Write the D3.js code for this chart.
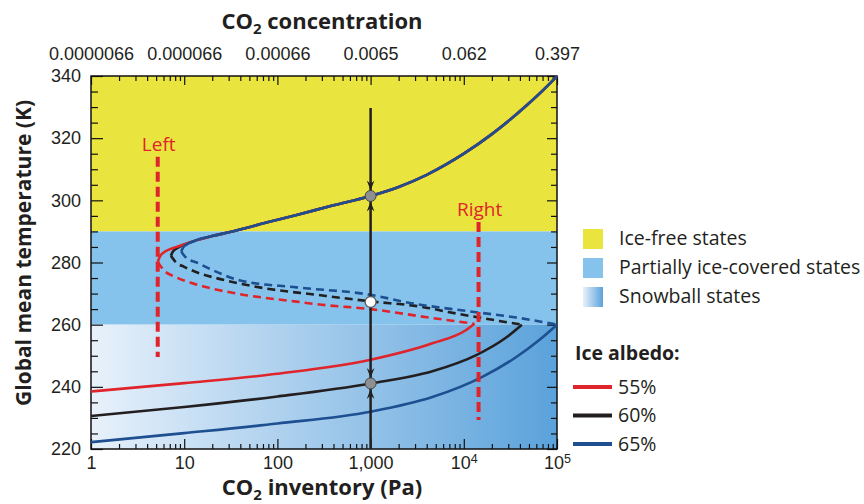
<!DOCTYPE html>
<html>
<head>
<meta charset="utf-8">
<script src="https://cdn.jsdelivr.net/npm/d3@7"></script>
<style>
  body { margin: 0; background: #fff; }
  svg { display: block; font-family: "Open Sans", Lato, sans-serif; }
</style>
</head>
<body>
<svg width="864" height="504" viewBox="0 0 864 504"></svg>
<script>
// ---- data: [CO2 inventory (Pa), temperature (K)] ----
const albedoLabels = ["55%", "60%", "65%"];
const regionLabels = ["Ice-free states", "Partially ice-covered states", "Snowball states"];

// ice-free branch, shared by all albedos
const warmShared = [[13.6, 287.2], [20, 288.5], [31, 289.8], [80, 293], [161, 295.3], [400, 298.4],
  [1000, 301.4], [2000, 304.3], [4000, 308.2], [10000, 315], [20000, 321.3], [47000, 330.5], [80000, 337], [100000, 340]];

// partially ice-covered stable branch, from the saddle-node to the shared branch
const warmNose55 = [[5.2, 280.2], [5.5, 282], [6.3, 283.6], [7.5, 284.6], [9.5, 285.6]];
const warmNose60 = [[7.2, 282.2], [7.6, 283.6], [8.6, 284.8], [10.5, 286]];
const warmNose65 = [[9.3, 283.5], [9.8, 285], [11.3, 286.2]];

// unstable (dashed) branch
const unstable55 = [[5.2, 280.2], [6, 277.6], [8, 275.4], [12, 273.4], [20, 271.6], [40, 269.8],
  [161, 267.4], [300, 266.4], [1000, 265], [4000, 262.4], [13000, 260.3]];
const unstable60 = [[7.2, 282.2], [8.2, 280], [10, 278.6], [15, 276.4], [22, 275], [70, 271.8],
  [265, 269.6], [1000, 267.5], [3600, 265.7], [7000, 264], [24000, 261.2], [42000, 260]];
const unstable65 = [[9.3, 283.5], [10.5, 281.5], [13.6, 280], [20, 277.6], [40, 274.2], [161, 272],
  [1000, 269.6], [2640, 267], [13600, 264], [36600, 262.3], [100000, 260]];

// snowball branch
const snowball55 = [[1, 238.5], [10, 241.2], [100, 244.2], [1000, 248.7], [4600, 254], [10600, 258.3], [13000, 260.3]];
const snowball60 = [[1, 230.6], [10, 233.5], [100, 236.9], [1000, 241.1], [4600, 245], [13600, 250.2], [28000, 255.7], [42000, 260]];
const snowball65 = [[1, 222.2], [10, 225.1], [100, 228.2], [1000, 232], [4600, 236.7], [15800, 243.2], [36600, 249.6], [64000, 255], [100000, 260]];

// equilibria at 1,000 Pa for the 60% case
const pathInventory = 1000;
const pathTop = 329.7;
const stableStates = [301.4, 241.1];
const unstableStates = [267.3];

// bifurcation markers
const bifurcations = [
  { label: "Left", inventory: 5.2, tLow: 249.6, tHigh: 314 },
  { label: "Right", inventory: 14400, tLow: 229.3, tHigh: 293 }
];

// regime limits (K)
const iceFreeMin = 290;
const snowballMax = 260;

// axis ticks and labels
const inventoryTicks = [1, 10, 100, 1000, 1e4, 1e5];
const inventoryLabels = ["1", "10", "100", "1,000", "10^4", "10^5"];
const concentrationLabels = ["0.0000066", "0.000066", "0.00066", "0.0065", "0.062", "0.397"];
const tempTicks = [220, 240, 260, 280, 300, 320, 340];

// ---- styles ----
const colors = ["#e0242b", "#231f20", "#1d4f91"];
const yellow = "#e9e53e";
const partialBlue = "#85c3ec";
const snowLight = "#e8f1fb";
const snowDark = "#5aa2db";
const red = "#e0242b";
const ink = "#231f20";

const svg = d3.select("svg");
const x = d3.scaleLog().domain([1, 1e5]).range([91, 557]);
const y = d3.scaleLinear().domain([220, 340]).range([449, 76]);

const defs = svg.append("defs");
const grad = defs.append("linearGradient").attr("id", "snow")
  .attr("gradientUnits", "userSpaceOnUse")
  .attr("x1", x(1)).attr("x2", x(1e5)).attr("y1", 0).attr("y2", 0);
grad.append("stop").attr("offset", 0).attr("stop-color", snowLight);
grad.append("stop").attr("offset", 1).attr("stop-color", snowDark);
const grad2 = defs.append("linearGradient").attr("id", "snowKey");
grad2.append("stop").attr("offset", 0).attr("stop-color", snowLight);
grad2.append("stop").attr("offset", 1).attr("stop-color", snowDark);

// background regimes
const x0 = x(1), x1 = x(1e5);
svg.append("rect").attr("x", x0).attr("width", x1 - x0)
  .attr("y", y(340)).attr("height", y(iceFreeMin) - y(340)).attr("fill", yellow);
svg.append("rect").attr("x", x0).attr("width", x1 - x0)
  .attr("y", y(iceFreeMin)).attr("height", y(snowballMax) - y(iceFreeMin)).attr("fill", partialBlue);
svg.append("rect").attr("x", x0).attr("width", x1 - x0)
  .attr("y", y(snowballMax)).attr("height", y(220) - y(snowballMax)).attr("fill", "url(#snow)");

// axes: major and minor ticks pointing inward
const minorX = x.ticks().filter(v => !inventoryTicks.includes(v));
const minorY = d3.range(220, 341, 5).filter(v => !tempTicks.includes(v));

function styleAxis(g) {
  g.select(".domain").remove();
  g.selectAll("line").attr("stroke", "#111").attr("stroke-width", 1.2);
  g.selectAll("text").attr("fill", ink).attr("font-size", 18);
}

const bottom = svg.append("g").attr("transform", `translate(0,${y(220)})`)
  .call(d3.axisBottom(x).tickValues(inventoryTicks).tickSizeInner(-10).tickSizeOuter(0)
    .tickPadding(7).tickFormat((d, i) => inventoryLabels[i]))
  .call(styleAxis);
svg.append("g").attr("transform", `translate(0,${y(220)})`)
  .call(d3.axisBottom(x).tickValues(minorX).tickSize(-5).tickFormat(""))
  .call(styleAxis);

// superscript exponents
bottom.selectAll(".tick text").each(function(d, i) {
  const lab = inventoryLabels[i];
  if (lab.includes("^")) {
    const [base, exp] = lab.split("^");
    const t = d3.select(this).text(null);
    t.append("tspan").text(base);
    t.append("tspan").attr("dy", "-0.5em").attr("font-size", 12.5).text(exp);
  }
});

svg.append("g").attr("transform", `translate(0,${y(340)})`)
  .call(d3.axisTop(x).tickValues(inventoryTicks).tickSizeInner(-9).tickSizeOuter(0)
    .tickPadding(16).tickFormat((d, i) => concentrationLabels[i]))
  .call(styleAxis);
svg.append("g").attr("transform", `translate(0,${y(340)})`)
  .call(d3.axisTop(x).tickValues(minorX).tickSize(-5).tickFormat(""))
  .call(styleAxis);

svg.append("g").attr("transform", `translate(${x(1)},0)`)
  .call(d3.axisLeft(y).tickValues(tempTicks).tickSizeInner(-12).tickSizeOuter(0).tickPadding(10))
  .call(styleAxis);
svg.append("g").attr("transform", `translate(${x(1)},0)`)
  .call(d3.axisLeft(y).tickValues(minorY).tickSize(-7).tickFormat(""))
  .call(styleAxis);
svg.append("g").attr("transform", `translate(${x(1e5)},0)`)
  .call(d3.axisRight(y).tickValues(tempTicks).tickSizeInner(-10).tickSizeOuter(0).tickFormat(""))
  .call(styleAxis);
svg.append("g").attr("transform", `translate(${x(1e5)},0)`)
  .call(d3.axisRight(y).tickValues(minorY).tickSize(-6).tickFormat(""))
  .call(styleAxis);

svg.append("rect").attr("x", x0).attr("y", y(340)).attr("width", x1 - x0).attr("height", y(220) - y(340))
  .attr("fill", "none").attr("stroke", "#111").attr("stroke-width", 1.5);

// titles
function co2Title(yPos, rest) {
  const t = svg.append("text").attr("x", 322).attr("y", yPos).attr("text-anchor", "middle")
    .attr("font-size", 22).attr("font-weight", "bold").attr("fill", ink);
  t.append("tspan").text("CO");
  t.append("tspan").attr("font-size", 15).attr("dy", 5).text("2");
  t.append("tspan").attr("dy", -5).text(rest);
}
co2Title(29, " concentration");
co2Title(495, " inventory (Pa)");

svg.append("text").attr("transform", `translate(31,253) rotate(-90)`)
  .attr("text-anchor", "middle").attr("font-size", 21).attr("font-weight", "bold").attr("fill", ink)
  .text("Global mean temperature (K)");

// curves
const line = d3.line().x(d => x(d[0])).y(d => y(d[1])).curve(d3.curveMonotoneX);
const noses = [warmNose55, warmNose60, warmNose65];
const unstables = [unstable55, unstable60, unstable65];
const snowballs = [snowball55, snowball60, snowball65];

const curves = svg.append("g").attr("fill", "none").attr("stroke-width", 2.6);
[1, 2, 0].forEach(i => {
  curves.append("path").attr("d", line(unstables[i])).attr("stroke", colors[i])
    .attr("stroke-dasharray", "8,5");
});
[1, 0, 2].forEach(i => {
  curves.append("path").attr("d", line(noses[i].concat(warmShared))).attr("stroke", colors[i]);
  curves.append("path").attr("d", line(snowballs[i])).attr("stroke", colors[i]);
});

// bifurcation markers
bifurcations.forEach(b => {
  svg.append("line").attr("x1", x(b.inventory)).attr("x2", x(b.inventory))
    .attr("y1", y(b.tHigh)).attr("y2", y(b.tLow))
    .attr("stroke", red).attr("stroke-width", 4).attr("stroke-dasharray", "10,5");
  svg.append("text").attr("x", x(b.inventory) + 1).attr("y", y(b.tHigh) - 6)
    .attr("text-anchor", "middle").attr("font-size", 19).attr("fill", red).text(b.label);
});

// evolution path at fixed inventory
const px = x(pathInventory);
svg.append("line").attr("x1", px).attr("x2", px).attr("y1", y(pathTop)).attr("y2", y(220))
  .attr("stroke", ink).attr("stroke-width", 2.5);

const r = 5.5;
function arrowPath(cx, tip, dir) {
  return `M${cx},${tip}L${cx - 3.8},${tip - 10 * dir}L${cx},${tip - 6.5 * dir}L${cx + 3.8},${tip - 10 * dir}Z`;
}
stableStates.forEach(t => {
  svg.append("path").attr("d", arrowPath(px, y(t) - r, 1)).attr("fill", ink);
  svg.append("path").attr("d", arrowPath(px, y(t) + r, -1)).attr("fill", ink);
  svg.append("circle").attr("cx", px).attr("cy", y(t)).attr("r", r)
    .attr("fill", "#8d8f91").attr("stroke", "#444").attr("stroke-width", 1);
});
unstableStates.forEach(t => {
  svg.append("circle").attr("cx", px).attr("cy", y(t)).attr("r", r)
    .attr("fill", "#fff").attr("stroke", "#555").attr("stroke-width", 1.3);
});

// legend
const regionFills = [yellow, partialBlue, "url(#snowKey)"];
const legend = svg.append("g").attr("font-size", 19.5).attr("fill", ink);
regionLabels.forEach((lab, i) => {
  const yy = 229 + i * 29;
  legend.append("rect").attr("x", 583).attr("y", yy).attr("width", 20).attr("height", 20).attr("fill", regionFills[i]);
  legend.append("text").attr("x", 619).attr("y", yy + 16).text(lab);
});
legend.append("text").attr("x", 575).attr("y", 360).attr("font-weight", "bold").attr("font-size", 19.5).text("Ice albedo:");
albedoLabels.forEach((lab, i) => {
  const yy = 387 + i * 28.5;
  legend.append("line").attr("x1", 573).attr("x2", 612).attr("y1", yy).attr("y2", yy)
    .attr("stroke", colors[i]).attr("stroke-width", 4);
  legend.append("text").attr("x", 618).attr("y", yy + 6.5).text(lab);
});
</script>
</body>
</html>
